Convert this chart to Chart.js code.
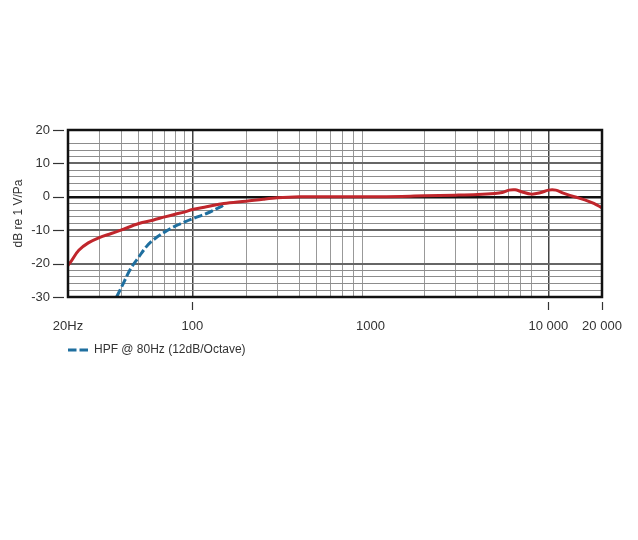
<!DOCTYPE html>
<html>
<head>
<meta charset="utf-8">
<script src="https://cdn.jsdelivr.net/npm/chart.js@4"></script>
<style>
  html, body { margin: 0; background: #fff; }
</style>
</head>
<body>
<canvas id="chart" width="638" height="540"></canvas>
<script>
// Frequency response (red curve)
const respFreq = [20, 21, 23, 26, 30, 35, 40, 50, 60, 70, 80, 90, 100, 120, 150, 200, 250, 300, 400, 500, 700,
  1000, 1500, 2000, 3000, 4000, 5000, 5500, 6000, 6500, 7000, 8000, 9000, 10000, 11000, 12000, 14000, 16000, 18000, 20000];
const respDb = [-20.5, -19, -16, -13.8, -12.2, -11, -9.9, -8, -7, -6, -5.2, -4.6, -3.8, -3, -2, -1.3, -0.7, -0.3, 0, 0, 0,
  0, 0.1, 0.3, 0.5, 0.7, 1, 1.3, 2, 2.1, 1.6, 0.8, 1.2, 2, 2, 1.2, 0, -0.9, -2, -3.3];

// High-pass filter curve (blue dashed)
const hpfFreq = [37.5, 40, 45, 50, 55, 60, 70, 80, 90, 100, 120, 140, 150];
const hpfDb = [-30, -27, -21.5, -18, -15, -13, -10.5, -8.8, -7.6, -6.6, -5, -3.3, -2.5];

// Axis ticks
const xTickVals = [20, 30, 40, 50, 60, 70, 80, 90, 100, 200, 300, 400, 500, 600, 700, 800, 900,
  1000, 2000, 3000, 4000, 5000, 6000, 7000, 8000, 9000, 10000, 20000];
const xTickLabels = { 20: '20Hz', 100: '100', 1000: '1000', 10000: '10 000', 20000: '20 000' };
const xTickMarks = [100, 10000, 20000];
const xHiddenLines = [1000, 9000];
const yLabelVals = [20, 10, 0, -10, -20, -30];
const yHiddenLines = [18, -14, -16, -18];

const FONT = '"Liberation Sans", Arial, sans-serif';
const HPF_DASH = [8.5, 3];

// marco negro del área de trazado
const framePlugin = {
  id: 'frame',
  afterDatasetsDraw(chart) {
    const { ctx, chartArea: a } = chart;
    ctx.save();
    ctx.strokeStyle = '#111';
    ctx.lineWidth = 2.5;
    ctx.strokeRect(a.left, a.top, a.right - a.left, a.bottom - a.top);
    ctx.restore();
  }
};

// pequeñas marcas separadas del eje
const tickMarksPlugin = {
  id: 'tickMarks',
  afterDraw(chart) {
    const { ctx, chartArea: a, scales } = chart;
    ctx.save();
    ctx.strokeStyle = '#333';
    ctx.lineWidth = 1.2;
    xTickMarks.forEach(v => {
      const x = Math.round(scales.x.getPixelForValue(v)) + 0.5;
      ctx.beginPath();
      ctx.moveTo(x, a.bottom + 5);
      ctx.lineTo(x, a.bottom + 13);
      ctx.stroke();
    });
    yLabelVals.forEach(v => {
      const y = Math.round(scales.y.getPixelForValue(v)) + 0.5;
      ctx.beginPath();
      ctx.moveTo(a.left - 15, y);
      ctx.lineTo(a.left - 4, y);
      ctx.stroke();
    });
    ctx.restore();
  }
};

new Chart(document.getElementById('chart'), {
  type: 'line',
  data: {
    datasets: [
      {
        label: 'Response',
        data: respFreq.map((f, i) => ({ x: f, y: respDb[i] })),
        borderColor: '#c0262c',
        borderWidth: 3,
        pointRadius: 0,
        tension: 0.35
      },
      {
        label: 'HPF @ 80Hz (12dB/Octave)',
        data: hpfFreq.map((f, i) => ({ x: f, y: hpfDb[i] })),
        borderColor: '#1f6f9f',
        borderWidth: 3,
        borderDash: HPF_DASH,
        pointRadius: 0,
        tension: 0.35
      }
    ]
  },
  options: {
    responsive: false,
    animation: false,
    layout: { padding: { top: 130, right: 36, left: 0, bottom: 174 } },
    plugins: {
      tooltip: { enabled: false },
      legend: {
        position: 'bottom',
        align: 'start',
        fullSize: false,
        labels: {
          usePointStyle: true,
          pointStyle: 'line',
          pointStyleWidth: 20,
          padding: 0,
          color: '#333',
          font: { family: FONT, size: 12 },
          // solo la curva del filtro va en la leyenda, con su trazo discontinuo
          generateLabels: chart => {
            const items = Chart.defaults.plugins.legend.labels.generateLabels(chart);
            return items.filter(it => it.datasetIndex === 1).map(it => {
              it.lineDash = HPF_DASH;
              it.strokeStyle = '#1f6f9f';
              it.lineWidth = 3;
              return it;
            });
          }
        }
      }
    },
    scales: {
      x: {
        type: 'logarithmic',
        min: 20,
        max: 20000,
        afterBuildTicks: s => { s.ticks = xTickVals.map(v => ({ value: v })); },
        afterFit: s => { s.height = 47; s.paddingLeft = 0; s.paddingRight = 0; },
        border: { display: false },
        grid: {
          drawTicks: false,
          color: c => {
            const v = c.tick.value;
            if (xHiddenLines.includes(v)) return 'rgba(0,0,0,0)';
            if (v === 100 || v === 10000) return '#444';
            return '#999';
          },
          lineWidth: c => (c.tick.value === 100 || c.tick.value === 10000) ? 1.5 : 1
        },
        ticks: {
          autoSkip: false,
          maxRotation: 0,
          padding: 22,
          color: '#333',
          font: { family: FONT, size: 13 },
          callback: v => xTickLabels[v] || ''
        }
      },
      y: {
        min: -30,
        max: 20,
        afterFit: s => { s.width = 68; },
        border: { display: false },
        title: {
          display: true,
          text: 'dB re 1 V/Pa',
          color: '#333',
          padding: { top: 11, bottom: 0 },
          font: { family: FONT, size: 12 }
        },
        grid: {
          drawTicks: false,
          color: c => {
            const v = c.tick.value;
            if (yHiddenLines.includes(v)) return 'rgba(0,0,0,0)';
            if (v === 0) return '#111';
            if (v % 10 === 0) return '#666';
            return '#8c8c8c';
          },
          lineWidth: c => {
            const v = c.tick.value;
            if (v === 0) return 2.5;
            if (v % 10 === 0) return 2;
            return 1;
          }
        },
        ticks: {
          stepSize: 2,
          autoSkip: false,
          padding: 18,
          color: '#333',
          font: { family: FONT, size: 13 },
          callback: v => (v % 10 === 0 ? String(v) : '')
        }
      }
    }
  },
  plugins: [framePlugin, tickMarksPlugin]
});
</script>
</body>
</html>
